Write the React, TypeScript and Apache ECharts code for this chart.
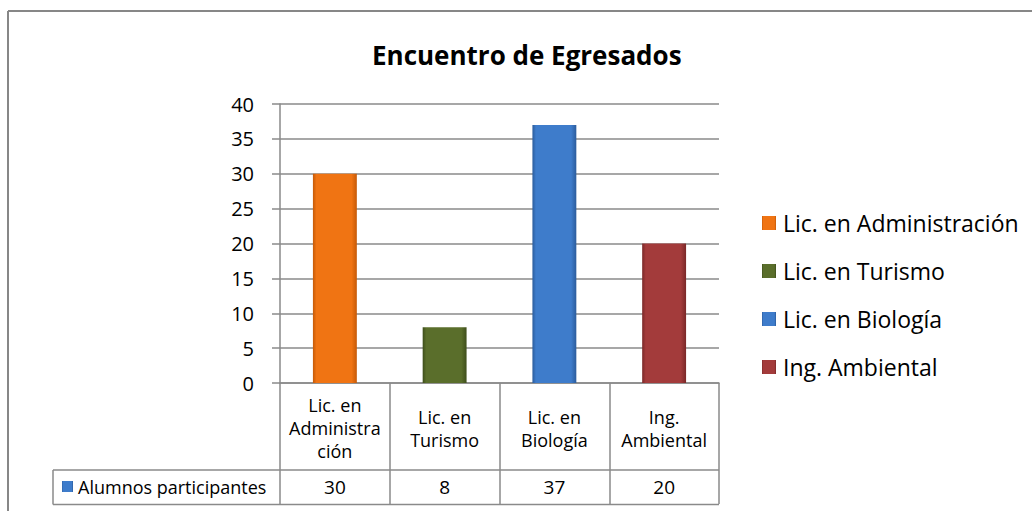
import React, { useEffect, useRef } from "react";
import * as echarts from "echarts";

const chartTitle = "Encuentro de Egresados";
const categories = [
  "Lic. en Administración",
  "Lic. en Turismo",
  "Lic. en Biología",
  "Ing. Ambiental",
];
const tableLabels = [
  "Lic. en\nAdministra\nción",
  "Lic. en\nTurismo",
  "Lic. en\nBiología",
  "Ing.\nAmbiental",
];
const values = [30, 8, 37, 20];
const seriesLabel = "Alumnos participantes";
const yMin = 0;
const yMax = 40;
const yStep = 5;

const barColors = [
  { base: "#F07413", dark: "#C55A08", light: "#F8984A" },
  { base: "#5A6E2B", dark: "#3E4E1B", light: "#7A9045" },
  { base: "#3E7CCB", dark: "#2B5C9C", light: "#6CA4E6" },
  { base: "#A33B3B", dark: "#7A2828", light: "#C76464" },
];

const FONT = "'Open Sans', 'Noto Sans', sans-serif";
const GRID_COLOR = "#8a8a8a";

function gradient(c: { base: string; dark: string; light: string }) {
  return new echarts.graphic.LinearGradient(0, 0, 1, 0, [
    { offset: 0, color: c.dark },
    { offset: 0.08, color: c.base },
    { offset: 0.88, color: c.base },
    { offset: 1, color: c.dark },
  ]);
}

export default function App() {
  const ref = useRef<HTMLDivElement>(null);

  useEffect(() => {
    if (!ref.current) return;
    const chart = echarts.init(ref.current, null, { renderer: "svg" });

    const series = categories.map((name, i) => ({
      type: "bar",
      name,
      data: values.map((v, j) => (j === i ? v : "-")),
      barWidth: "40%",
      barGap: "-100%",
      itemStyle: { color: gradient(barColors[i]) },
    }));

    chart.setOption({
      animation: false,
      backgroundColor: "#ffffff",
      textStyle: { fontFamily: FONT },
      title: {
        text: chartTitle,
        left: 372,
        top: 40,
        padding: 0,
        textStyle: {
          fontFamily: FONT,
          fontSize: 26,
          lineHeight: 30,
          fontWeight: "bold",
          color: "#000",
        },
      },
      legend: {
        orient: "vertical",
        left: 762,
        top: 211,
        padding: 0,
        itemWidth: 14,
        itemHeight: 14,
        itemGap: 24,
        icon: "rect",
        data: categories,
        textStyle: {
          fontFamily: FONT,
          fontSize: 23,
          lineHeight: 24,
          color: "#000",
          padding: [0, 0, 0, 2],
        },
      },
      grid: { left: 280, right: 313, top: 104, bottom: 128 },
      xAxis: [
        {
          type: "category",
          data: tableLabels,
          position: "bottom",
          axisLine: { show: true, lineStyle: { color: GRID_COLOR, width: 1.5 } },
          axisTick: {
            show: true,
            length: 121,
            alignWithLabel: false,
            lineStyle: { color: GRID_COLOR, width: 1.5 },
          },
          axisLabel: {
            interval: 0,
            margin: 45,
            verticalAlign: "middle",
            fontFamily: FONT,
            fontSize: 18,
            lineHeight: 23,
            color: "#000",
          },
          splitLine: { show: false },
        },
        {
          type: "category",
          data: values.map((v) => String(v)),
          position: "bottom",
          offset: 87,
          axisLine: { show: false },
          axisTick: { show: false },
          axisLabel: {
            interval: 0,
            margin: 17,
            verticalAlign: "middle",
            fontFamily: FONT,
            fontSize: 19,
            color: "#000",
          },
        },
      ],
      yAxis: {
        type: "value",
        min: yMin,
        max: yMax,
        interval: yStep,
        axisLine: { show: true, lineStyle: { color: GRID_COLOR, width: 1.5 } },
        axisTick: {
          show: true,
          length: 8,
          lineStyle: { color: GRID_COLOR, width: 1.5 },
        },
        axisLabel: {
          margin: 26,
          fontFamily: FONT,
          fontSize: 20,
          color: "#000",
        },
        splitLine: { show: true, lineStyle: { color: GRID_COLOR, width: 1.5 } },
      },
      series,
      graphic: [
        {
          type: "line",
          shape: { x1: 8, y1: 11, x2: 1032, y2: 11 },
          style: { stroke: "#878787", lineWidth: 2 },
        },
        {
          type: "line",
          shape: { x1: 8, y1: 11, x2: 8, y2: 511 },
          style: { stroke: "#878787", lineWidth: 2 },
        },
        {
          type: "line",
          shape: { x1: 53, y1: 470, x2: 719, y2: 470 },
          style: { stroke: GRID_COLOR, lineWidth: 1.5 },
        },
        {
          type: "line",
          shape: { x1: 53, y1: 504.5, x2: 719, y2: 504.5 },
          style: { stroke: GRID_COLOR, lineWidth: 1.5 },
        },
        {
          type: "line",
          shape: { x1: 53, y1: 470, x2: 53, y2: 504.5 },
          style: { stroke: GRID_COLOR, lineWidth: 1.5 },
        },
        {
          type: "rect",
          shape: { x: 62, y: 481, width: 11, height: 11 },
          style: { fill: gradient(barColors[2]) },
        },
        {
          type: "text",
          x: 78,
          y: 487,
          style: {
            text: seriesLabel,
            fontFamily: FONT,
            fontSize: 18,
            fill: "#000",
            verticalAlign: "middle",
            align: "left",
          },
        },
      ],
    });

    return () => chart.dispose();
  }, []);

  return (
    <div
      ref={ref}
      style={{ position: "fixed", left: 0, top: 0, width: 1032, height: 511 }}
    />
  );
}
